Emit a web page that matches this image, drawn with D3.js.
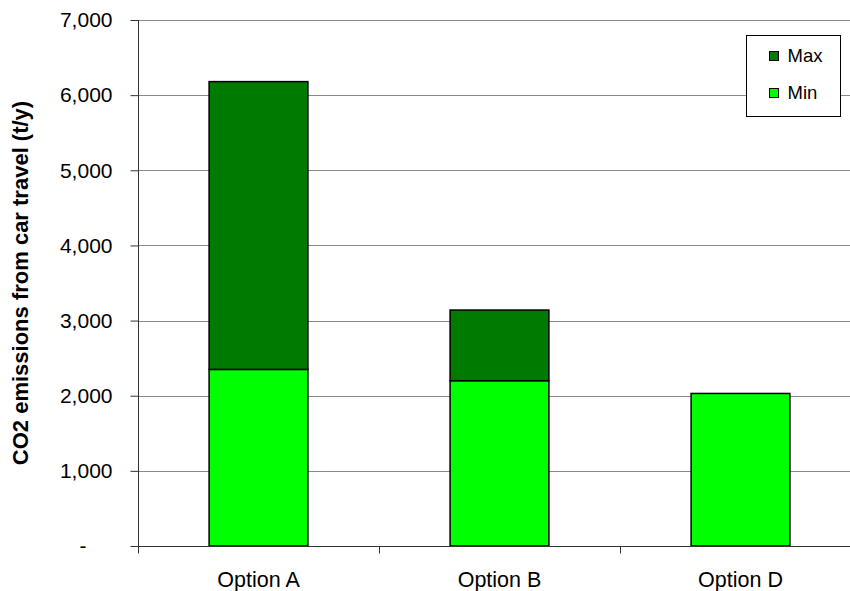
<!DOCTYPE html>
<html>
<head>
<meta charset="utf-8">
<script src="https://cdn.jsdelivr.net/npm/d3@7"></script>
<style>
  html, body { margin: 0; padding: 0; background: #fff; }
  svg { display: block; font-family: "Liberation Sans", Arial, sans-serif; }
</style>
</head>
<body>
<svg id="chart" width="850" height="591"></svg>
<script>
// Chart data
const categories = ["Option A", "Option B", "Option D"];
const minValues = [2350, 2200, 2030];   // lower estimate (t/y)
const maxValues = [6180, 3140, 2030];   // upper estimate (t/y)
const seriesNames = ["Max", "Min"];
const yTicks = [0, 1000, 2000, 3000, 4000, 5000, 6000, 7000];
const yTickLabels = ["-", "1,000", "2,000", "3,000", "4,000", "5,000", "6,000", "7,000"];
const yTitle = "CO2 emissions from car travel (t/y)";

const colors = { Max: "#007a00", Min: "#00ff00" };

const svg = d3.select("#chart");
const plot = { left: 138, right: 861, top: 20, bottom: 546 };

const x = d3.scaleBand().domain(categories).range([plot.left, plot.right]).padding(0);
const y = d3.scaleLinear().domain([0, 7000]).range([plot.bottom, plot.top]);
const barW = x.bandwidth() * 0.41;

// Horizontal gridlines
svg.append("g")
  .selectAll("line")
  .data(yTicks.filter(d => d > 0))
  .join("line")
  .attr("x1", plot.left).attr("x2", plot.right)
  .attr("y1", d => Math.round(y(d)) + 0.5).attr("y2", d => Math.round(y(d)) + 0.5)
  .attr("stroke", "#8a8a8a").attr("stroke-width", 1);

// Stacked bars: Min segment from zero, Max segment from Min up to Max
const rows = categories.map((c, i) => ({ cat: c, min: minValues[i], max: maxValues[i] }));
const bars = svg.append("g");
bars.selectAll("rect.min")
  .data(rows)
  .join("rect")
  .attr("class", "min")
  .attr("x", d => x(d.cat) + (x.bandwidth() - barW) / 2)
  .attr("width", barW)
  .attr("y", d => y(d.min))
  .attr("height", d => y(0) - y(d.min))
  .attr("fill", colors.Min)
  .attr("stroke", "#000").attr("stroke-width", 1.5);
bars.selectAll("rect.max")
  .data(rows.filter(d => d.max > d.min))
  .join("rect")
  .attr("class", "max")
  .attr("x", d => x(d.cat) + (x.bandwidth() - barW) / 2)
  .attr("width", barW)
  .attr("y", d => y(d.max))
  .attr("height", d => y(d.min) - y(d.max))
  .attr("fill", colors.Max)
  .attr("stroke", "#000").attr("stroke-width", 1.5);

// Y axis
const yAxis = d3.axisLeft(y)
  .tickValues(yTicks)
  .tickSize(8)
  .tickPadding(18)
  .tickFormat((d, i) => yTickLabels[i]);
const gy = svg.append("g")
  .attr("transform", `translate(${plot.left + 0.5},0)`)
  .call(yAxis);
gy.select(".domain").attr("stroke", "#333").attr("d", `M0,${plot.top}V${plot.bottom}`);
gy.selectAll(".tick line").attr("stroke", "#333");
gy.selectAll(".tick text")
  .attr("font-size", 21)
  .attr("fill", "#000")
  .attr("font-family", "Liberation Sans, Arial, sans-serif")
  .attr("dx", d => d === 0 ? -26 : 0);

// X axis with ticks at category boundaries
const gx = svg.append("g").attr("transform", `translate(0,${plot.bottom + 0.5})`);
gx.append("line")
  .attr("x1", plot.left).attr("x2", plot.right)
  .attr("stroke", "#333");
const bounds = categories.map(c => x(c)).concat([plot.right]);
gx.selectAll("line.tk")
  .data(bounds)
  .join("line")
  .attr("class", "tk")
  .attr("x1", d => Math.round(d) + 0.5).attr("x2", d => Math.round(d) + 0.5)
  .attr("y1", 0).attr("y2", 7)
  .attr("stroke", "#333");
gx.selectAll("text")
  .data(categories)
  .join("text")
  .attr("x", d => x(d) + x.bandwidth() / 2)
  .attr("y", 40)
  .attr("text-anchor", "middle")
  .attr("font-size", 21.5)
  .attr("fill", "#000")
  .text(d => d);

// Y axis title
svg.append("text")
  .attr("transform", `translate(28,283) rotate(-90)`)
  .attr("text-anchor", "middle")
  .attr("font-size", 22)
  .attr("font-weight", "bold")
  .attr("fill", "#000")
  .text(yTitle);

// Legend
const lg = svg.append("g").attr("transform", "translate(746.5,35.5)");
lg.append("rect")
  .attr("width", 94).attr("height", 81)
  .attr("fill", "#fff").attr("stroke", "#000").attr("stroke-width", 1);
const items = lg.selectAll("g.item")
  .data(seriesNames)
  .join("g")
  .attr("class", "item")
  .attr("transform", (d, i) => `translate(23,${16 + i * 37})`);
items.append("rect")
  .attr("width", 9).attr("height", 9)
  .attr("fill", d => colors[d])
  .attr("stroke", "#000").attr("stroke-width", 1);
items.append("text")
  .attr("x", 18).attr("y", 10)
  .attr("font-size", 18.5)
  .attr("fill", "#000")
  .text(d => d);
</script>
</body>
</html>
